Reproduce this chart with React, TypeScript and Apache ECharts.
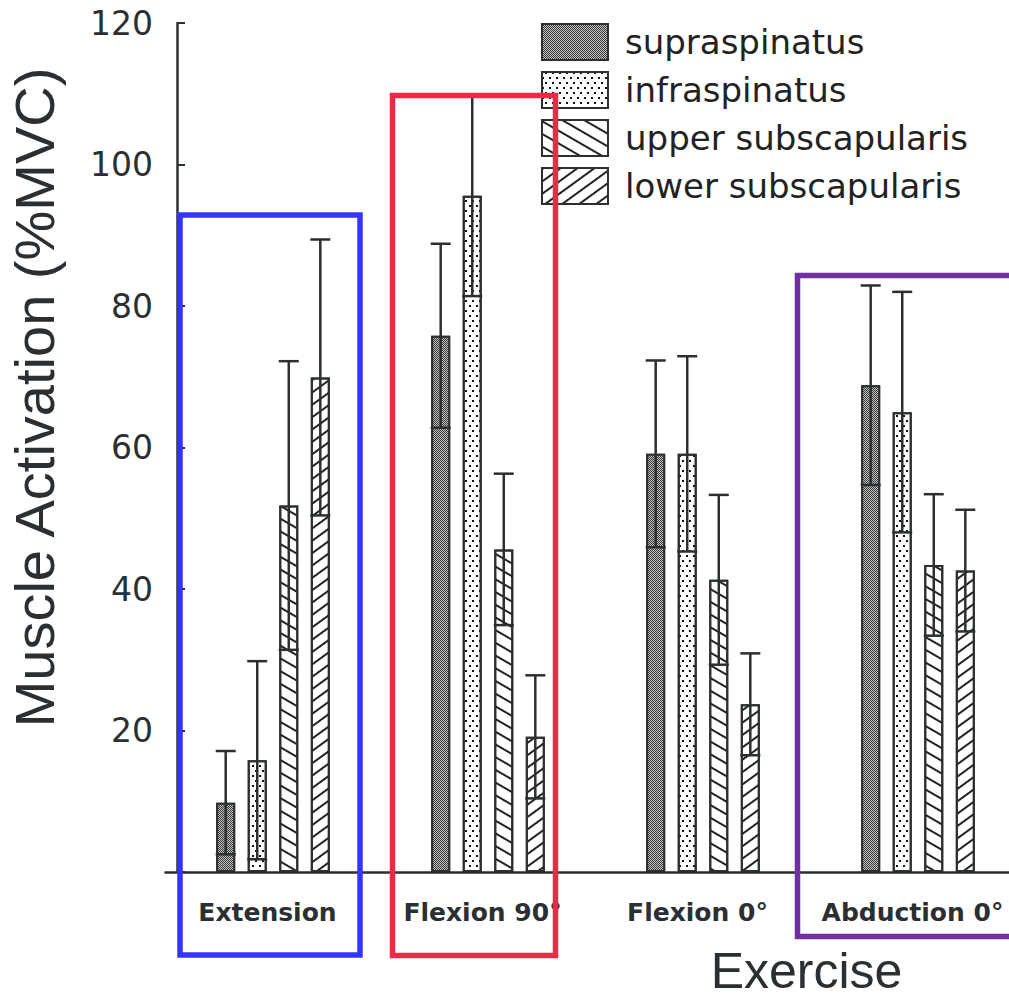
import React, { useEffect, useRef } from "react";
import * as echarts from "echarts";

const categories = ["Extension", "Flexion 90°", "Flexion 0°", "Abduction 0°"];
const muscles = ["supraspinatus", "infraspinatus", "upper subscapularis", "lower subscapularis"];

const supraMean = [9.8, 75.8, 59.1, 68.8];
const supraSD = [7.3, 13.0, 13.2, 14.1];
const infraMean = [15.8, 95.6, 59.1, 65.0];
const infraSD = [14.0, 14.2, 13.8, 17.0];
const upperMean = [51.8, 45.6, 41.3, 43.4];
const upperSD = [20.4, 10.7, 12.0, 10.0];
const lowerMean = [69.9, 19.1, 23.7, 42.6];
const lowerSD = [19.5, 8.7, 7.2, 8.6];

const yMin = 0;
const yMax = 120;
const yStep = 20;

const means = [supraMean, infraMean, upperMean, lowerMean];
const sds = [supraSD, infraSD, upperSD, lowerSD];

const INK = "#2b2f31";
const BAR_W = 19;
const GAP = 0.66;

const fills = ["#383838", "#ffffff", "#ffffff", "#ffffff"];
const decals: any[] = [
  { symbol: "rect", symbolSize: 1, color: "#c4c4c4", dashArrayX: [[1, 1], [0, 1, 1, 0]], dashArrayY: [1, 0] },
  { symbol: "rect", symbolSize: 1, color: "#111111", dashArrayX: [[1.5, 4.5], [0, 3, 1.5, 1.5]], dashArrayY: [1.5, 2.5] },
  { symbol: "rect", symbolSize: 1, color: "#222222", dashArrayX: [1, 0], dashArrayY: [1.6, 8.4], rotation: Math.PI / 6 },
  { symbol: "rect", symbolSize: 1, color: "#222222", dashArrayX: [1, 0], dashArrayY: [1.6, 7.4], rotation: -Math.PI / 5 },
];

export default function App() {
  const ref = useRef<HTMLDivElement>(null);
  useEffect(() => {
    if (!ref.current) return;
    const chart = echarts.init(ref.current, undefined, { renderer: "svg" });

    const barSeries = muscles.map((m, s) => ({
      name: m,
      type: "bar",
      barWidth: BAR_W,
      barGap: `${GAP * 100}%`,
      data: means[s],
      itemStyle: { color: fills[s], borderColor: INK, borderWidth: 2, decal: decals[s] },
      z: 2,
    }));

    const errSeries = muscles.map((m, s) => ({
      name: `${m} SD`,
      type: "custom",
      z: 5,
      data: categories.map((_, i) => [i, means[s][i] - sds[s][i], means[s][i] + sds[s][i]]),
      renderItem: (params: any, api: any) => {
        const cat = api.value(0);
        const lo = api.value(1);
        const hi = api.value(2);
        const pitch = BAR_W * (1 + GAP);
        const offset = (s - 1.5) * pitch;
        const top = api.coord([cat, hi]);
        const bot = api.coord([cat, lo]);
        const x = top[0] + offset;
        const half = BAR_W / 2 + 0.5;
        const st = { stroke: INK, lineWidth: 2.5 };
        return {
          type: "group",
          children: [
            { type: "line", shape: { x1: x, y1: top[1], x2: x, y2: bot[1] }, style: st },
            { type: "line", shape: { x1: x - half, y1: top[1], x2: x + half, y2: top[1] }, style: st },
            { type: "line", shape: { x1: x - half, y1: bot[1], x2: x + half, y2: bot[1] }, style: st },
          ],
        };
      },
    }));

    chart.setOption({
      animation: false,
      backgroundColor: "#ffffff",
      grid: { left: 165.5, width: 860, top: 23, height: 849, containLabel: false, outerBoundsMode: "none" },
      legend: {
        data: muscles,
        orient: "vertical",
        left: 536,
        top: 18,
        itemWidth: 66,
        itemHeight: 36,
        itemGap: 10,
        icon: "rect",
        selectedMode: false,
        textStyle: { fontFamily: "DejaVu Sans", fontSize: 34, color: "#222222", padding: [0, 0, 0, 12] },
      },
      xAxis: {
        type: "category",
        data: categories,
        axisLine: { lineStyle: { color: INK, width: 2.5 } },
        axisTick: { show: false },
        axisLabel: {
          interval: 0,
          fontFamily: "DejaVu Sans",
          fontWeight: "bold",
          fontSize: 25,
          color: INK,
          margin: 28,
          padding: [0, 11, 0, 0],
        },
        name: "Exercise",
        nameLocation: "middle",
        nameGap: 74,
        nameTextStyle: {
          fontFamily: "Liberation Sans",
          fontSize: 50,
          color: INK,
          padding: [0, 0, 0, 422],
        },
      },
      yAxis: {
        type: "value",
        min: yMin,
        max: yMax,
        interval: yStep,
        offset: -11.5,
        splitLine: { show: false },
        axisLine: { show: true, lineStyle: { color: INK, width: 2.5 } },
        axisTick: { show: true, inside: true, length: 8, lineStyle: { color: INK, width: 2 } },
        axisLabel: {
          fontFamily: "DejaVu Sans",
          fontSize: 33,
          color: INK,
          margin: 24,
          formatter: (v: number) => (v === 0 ? "" : String(v)),
        },
        name: "Muscle Activation (%MVC)",
        nameLocation: "middle",
        nameRotate: 90,
        nameGap: 115,
        nameTextStyle: {
          fontFamily: "Liberation Sans",
          fontSize: 56,
          color: INK,
          padding: [0, 0, 0, 100],
        },
      },
      graphic: [
        { type: "rect", z: 100, shape: { x: 180, y: 215, width: 180, height: 740 }, style: { fill: "none", stroke: "#3434ff", lineWidth: 5.5 } },
        { type: "rect", z: 100, shape: { x: 392.5, y: 95.5, width: 163, height: 860 }, style: { fill: "none", stroke: "#ee2947", lineWidth: 5.5 } },
        { type: "rect", z: 100, shape: { x: 797.5, y: 275.5, width: 225, height: 661 }, style: { fill: "none", stroke: "#7030a0", lineWidth: 5.5 } },
      ],
      series: [...barSeries, ...errSeries],
    });

    return () => chart.dispose();
  }, []);

  return <div ref={ref} style={{ position: "absolute", left: 0, top: 0, width: 1009, height: 998, overflow: "hidden" }} />;
}
